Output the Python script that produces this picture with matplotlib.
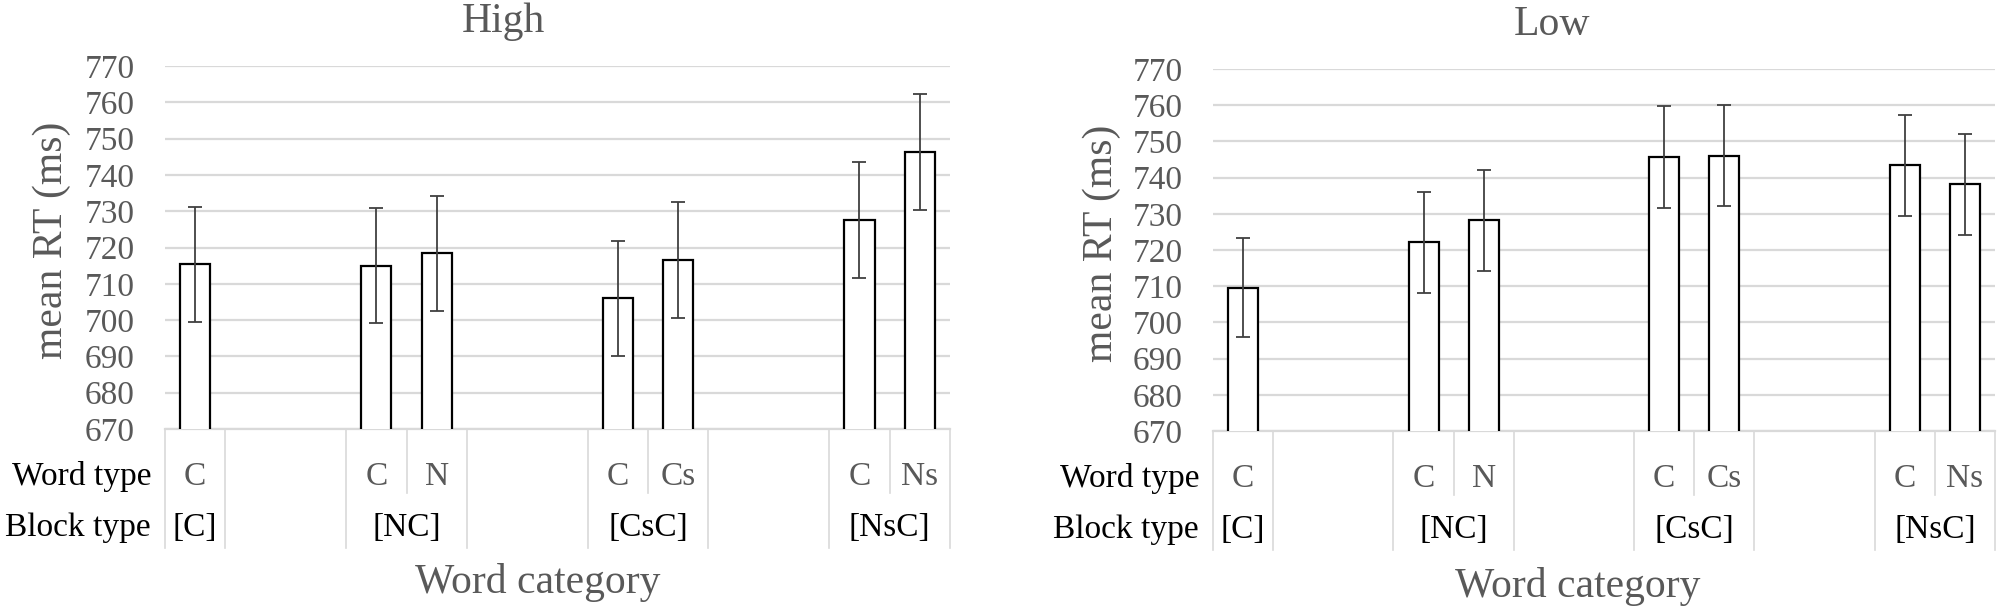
import numpy as np
import matplotlib
matplotlib.use("Agg")
import matplotlib.pyplot as plt

plt.rcParams['font.family'] = ['Liberation Serif', 'DejaVu Serif']

# ---------------- data ----------------
word_types = ['C', '', '', 'C', 'N', '', '', 'C', 'Cs', '', '', 'C', 'Ns']
block_labels = ['[C]', '[NC]', '[CsC]', '[NsC]']
block_first = [0, 3, 7, 11]
block_last = [0, 4, 8, 12]

nan = np.nan
high_means = [715.4, nan, nan, 715.0, 718.4, nan, nan, 706.0, 716.5, nan, nan, 727.5, 746.2]
high_err = [15.8, nan, nan, 15.8, 15.8, nan, nan, 15.8, 15.9, nan, nan, 16.0, 16.0]
low_means = [709.6, nan, nan, 722.1, 728.2, nan, nan, 745.7, 746.1, nan, nan, 743.4, 738.1]
low_err = [13.7, nan, nan, 14.0, 14.0, nan, nan, 14.0, 14.0, nan, nan, 14.0, 14.0]

y_ticks = list(range(670, 771, 10))
panel_titles = ['High', 'Low']
y_label = 'mean RT (ms)'
x_label = 'Word category'
row_labels = ['Word type', 'Block type']

# ---------------- figure ----------------
W, H = 2000, 614
fig = plt.figure(figsize=(W / 100, H / 100), dpi=100)

GRID = '#d9d9d9'
TXT = '#595959'

panels = [
    dict(rect=(165, 429, 785, 363), means=high_means, err=high_err,
         title=(503, 32), ylab=(52, 240), xlab=(538, 593)),
    dict(rect=(1213, 431, 782, 362), means=low_means, err=low_err,
         title=(1552, 35), ylab=(1102, 243), xlab=(1578, 597)),
]

for p, title in zip(panels, panel_titles):
    x0, yb, w, h = p['rect']
    ax = fig.add_axes([x0 / W, 1 - yb / H, w / W, h / H])
    n = len(word_types)
    xs = np.arange(n)
    m = np.array(p['means'], dtype=float)
    e = np.array(p['err'], dtype=float)
    ok = ~np.isnan(m)

    ax.bar(xs[ok], m[ok], width=0.5, color='white', edgecolor='black',
           linewidth=1.6, zorder=3)
    ax.errorbar(xs[ok], m[ok], yerr=e[ok], fmt='none', ecolor='#404040',
                elinewidth=1.3, capsize=5, capthick=1.3, zorder=4)

    ax.set_xlim(-0.5, n - 0.5)
    ax.set_ylim(670, 770)
    ax.set_yticks(y_ticks)
    ax.tick_params(axis='y', length=0, pad=22, labelsize=24, labelcolor=TXT)
    ax.set_xticks([])
    ax.yaxis.grid(True, color=GRID, linewidth=1.6, zorder=0)
    ax.set_axisbelow(True)
    for s in ['top', 'right', 'left']:
        ax.spines[s].set_visible(False)
    ax.spines['bottom'].set_color(GRID)
    ax.spines['bottom'].set_linewidth(1.6)

    tr = ax.get_xaxis_transform()

    def yf(px):
        return -px / h

    # word type labels
    for i, lab in enumerate(word_types):
        if lab:
            ax.text(i, yf(48), lab, transform=tr, ha='center', va='center',
                    fontsize=24, color=TXT)
    # block labels
    for lab, a, b in zip(block_labels, block_first, block_last):
        ax.text((a + b) / 2, yf(99), lab, transform=tr, ha='center',
                va='center', fontsize=24, color='black')
    # long separators (group boundaries)
    longs = sorted(set([a - 0.5 for a in block_first] + [b + 0.5 for b in block_last]))
    for xv in longs:
        ax.plot([xv, xv], [0, yf(119)], transform=tr, color=GRID, lw=1.2,
                clip_on=False)
    # short separators (inside groups)
    for a, b in zip(block_first, block_last):
        for k in range(a, b):
            ax.plot([k + 0.5, k + 0.5], [0, yf(64)], transform=tr, color=GRID,
                    lw=1.2, clip_on=False)
    # row labels
    ax.text(-14 / w, yf(48), row_labels[0], transform=ax.transAxes,
            ha='right', va='center', fontsize=24, color='black')
    ax.text(-14 / w, yf(99), row_labels[1], transform=ax.transAxes,
            ha='right', va='center', fontsize=24, color='black')

    fig.text(p['title'][0] / W, 1 - p['title'][1] / H, title, ha='center',
             va='baseline', fontsize=30, color=TXT)
    fig.text(p['ylab'][0] / W, 1 - p['ylab'][1] / H, y_label, ha='center',
             va='center', rotation=90, fontsize=30, color=TXT)
    fig.text(p['xlab'][0] / W, 1 - p['xlab'][1] / H, x_label, ha='center',
             va='baseline', fontsize=30, color=TXT)

fig.savefig('out.png', dpi=100, facecolor='white')
